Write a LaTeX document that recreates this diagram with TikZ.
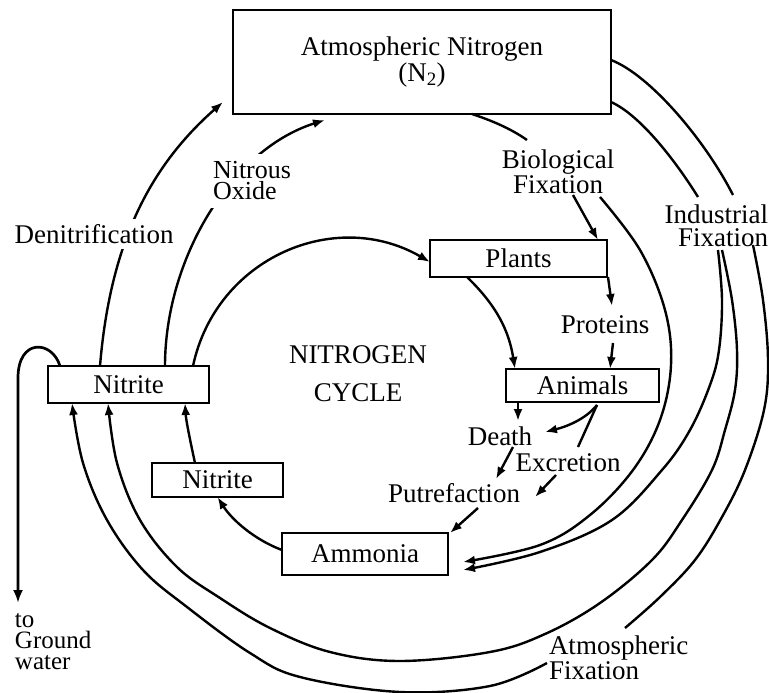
\documentclass[tikz,border=0pt]{standalone}
\usepackage{fontspec}
\setmainfont{Liberation Serif}
\usetikzlibrary{arrows.meta,calc}
\begin{document}
\begin{tikzpicture}[x=1pt,y=-1pt,
  every node/.style={font=\fontsize{27}{23}\selectfont, inner sep=0pt, outer sep=0pt},
  box/.style={draw, line width=2pt},
  conn/.style={line width=2.4pt},
  arr/.style={line width=2.4pt, -{Latex[length=12pt,width=9pt]}},
]
\useasboundingbox (0,0) rectangle (769,693);

% boxes
\node[box, minimum width=378pt, minimum height=104pt, align=center, font=\fontsize{27}{26}\selectfont] (atm) at (422,62) {Atmospheric Nitrogen\\(N\textsubscript{2})};
\node[box, minimum width=177pt, minimum height=37pt] (plants) at (518.5,258.5) {Plants};
\node[box, minimum width=153pt, minimum height=33pt] (animals) at (582.5,385.5) {Animals};
\node[box, minimum width=161pt, minimum height=37pt] (nitA) at (128.5,384.5) {Nitrite};
\node[box, minimum width=131pt, minimum height=34pt] (nitB) at (217.5,480) {Nitrite};
\node[box, minimum width=166pt, minimum height=42pt] (amm) at (365,554) {Ammonia};

% labels
\node[align=center] (bio) at (558,172) {Biological\\Fixation};
\node[align=right, anchor=east] (ind) at (768,226) {Industrial\\Fixation};
\node[align=left, anchor=west] (atmfix) at (549,658) {Atmospheric\\Fixation};
\node (proteins) at (605,325) {Proteins};
\node[align=center, font=\fontsize{27}{38}\selectfont] (cycle) at (358,374) {NITROGEN\\CYCLE};
\node (death) at (500,436) {Death};
\node (excr) at (568,463) {Excretion};
\node (putre) at (454,493) {Putrefaction};
\node[align=left, anchor=west, font=\fontsize{25}{21}\selectfont] (ground) at (15,642) {to\\Ground\\water};

% denitrification
\draw[arr] ($(nitA.north west)+(52,0)$) .. controls (110,246) and (148,168) .. ($(atm.south west)+(-10,-12)$);
% nitrous oxide
\draw[arr] ($(nitA.north west)+(117,0)$) .. controls (165,260) and (230,150) .. ($(atm.south west)+(92,6)$);
% inner cycle nitrite -> plants
\draw[arr] ($(nitA.north east)+(-16,0)$) .. controls (216,258) and (335,207) .. ($(plants.west)+(0,3.5)$);
% plants -> animals
\draw[arr] ($(plants.south west)+(37,0)$) .. controls (497,306) and (509,331) .. ($(animals.north west)+(9,0)$);
% atm -> biological fixation
\draw[conn] ($(atm.south west)+(239,0)$) .. controls (490,120) and (510,128) .. ($(bio.center)+(-31,-32)$);
% bio -> plants
\draw[arr] ($(bio.center)+(15,23)$) -- ($(plants.north east)+(-9,0)$);
% bio -> ammonia
\draw[arr] plot[smooth, tension=0.6] coordinates {($(bio.center)+(42,25)$) (640,250) (665,310) (671,365) (660,420) (633,470) (590,515) (540,545) ($(amm.east)+(15,8)$)};
% atm -> industrial fixation
\draw[conn] ($(atm.north east)+(0,50)$) .. controls (650,75) and (705,140) .. ($(ind.east)+(-35,-31)$);
\draw[conn] ($(atm.north east)+(0,92)$) .. controls (640,115) and (675,160) .. ($(ind.east)+(-70,-29)$);
% industrial -> ammonia
\draw[arr] plot[smooth, tension=0.6] coordinates {($(ind.east)+(-50,24)$) (722,300) (719,350) (710,385) (690,430) (662,470) (612,520) (540,552) ($(amm.east)+(15,16)$)};
% industrial -> nitrite
\draw[arr] plot[smooth, tension=0.6] coordinates {($(ind.east)+(-46,24)$) (732,300) (737,350) (735,390) (725,430) (712,470) (682,520) (652,560) (600,603) (545,634) (490,652) (400,661) (330,652) (270,628) (220,598) (177,567) (140,520) (117,463) ($(nitA.south west)+(60,0)$)};
% industrial -> atmospheric fixation
\draw[conn] plot[smooth, tension=0.6] coordinates {($(ind.east)+(-15,19)$) (763,300) (768,360) (764,410) (745,470) (722,517) (695,560) (660,597) ($(atmfix.west)+(76,-30)$)};
% atmospheric fixation -> nitrite
\draw[arr] plot[smooth, tension=0.6] coordinates {($(atmfix.west)+(-2,5)$) (490,686) (400,692) (300,677) (250,653) (187,607) (143,570) (107,520) (83,463) ($(nitA.south west)+(24,0)$)};
% plants -> proteins -> animals
\draw[arr] ($(plants.south east)+(1,0)$) -- ($(proteins.center)+(7,-19)$);
\draw[arr] ($(proteins.center)+(8,18)$) -- ($(animals.north east)+(-49,0)$);
% animals -> death / excretion
\draw[arr] ($(animals.south west)+(12,0)$) -- ($(death.center)+(18,-15)$);
\draw[arr] ($(animals.south west)+(91,3)$) .. controls (585,420) and (565,427) .. ($(death.center)+(45,-4)$);
\draw[conn] ($(animals.south west)+(91,3)$) -- ($(excr.center)+(10,-16)$);
% death -> putrefaction
\draw[arr] ($(death.center)+(13,11)$) -- ($(putre.center)+(42,-14)$);
% excretion ->
\coordinate (excrend) at (535,497);
\draw[arr] ($(excr.center)+(-12,12)$) -- (excrend);
% putrefaction -> ammonia
\draw[arr] ($(putre.center)+(24,15)$) -- ($(amm.north east)+(2,0)$);
% ammonia -> nitrite B
\draw[arr] ($(amm.west)+(0,-4)$) .. controls (255,540) and (232,520) .. (nitB.south);
% nitrite B -> nitrite A
\draw[arr] ($(nitB.north west)+(43,0)$) .. controls (190,440) and (186,420) .. ($(nitA.south east)+(-24,0)$);
% to ground water
\coordinate (gw) at (18,603);
\draw[line width=2.7pt, -{Latex[length=13pt,width=10pt]}] ($(nitA.north west)+(12,0)$) .. controls (52,340) and (18,338) .. (18,378) -- (gw);

% labels that interrupt arcs
\node[fill=white, inner sep=5pt] (denit) at (94,234) {Denitrification};
\node[fill=white, inner sep=8pt, align=left, anchor=west, font=\fontsize{26}{21}\selectfont] (nitrous) at (205,181) {Nitrous\\Oxide};
\end{tikzpicture}
\end{document}
